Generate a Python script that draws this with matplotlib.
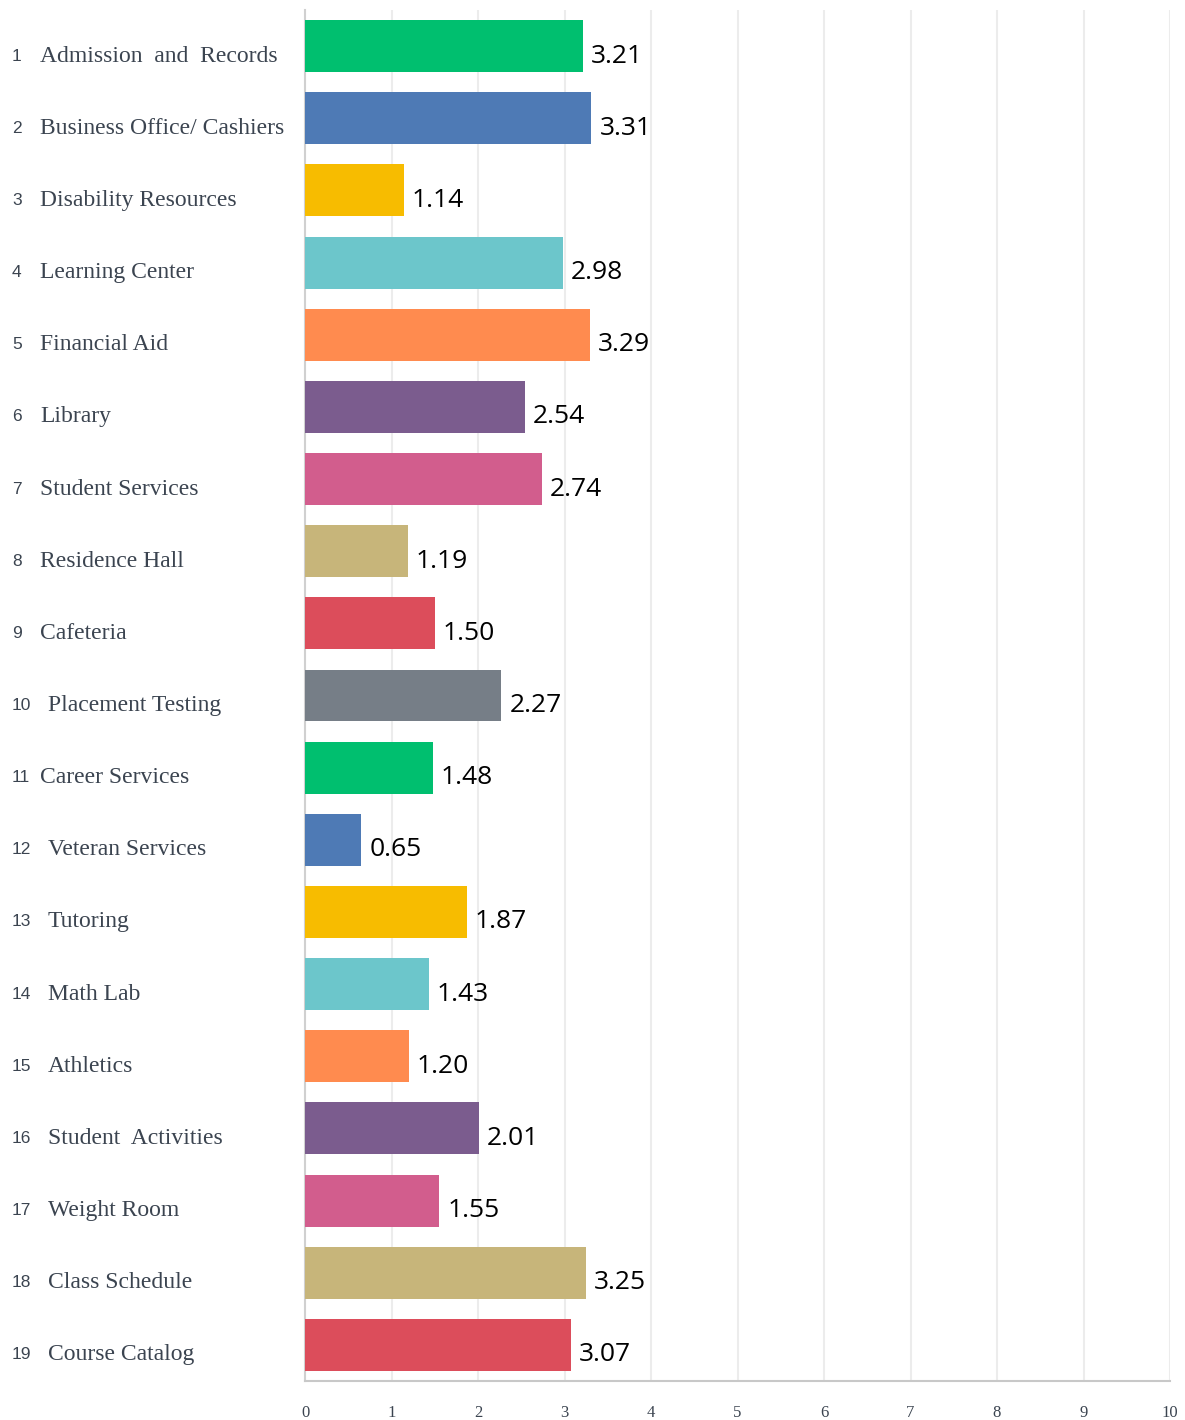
import matplotlib
matplotlib.use('Agg')

import matplotlib.pyplot as plt
import matplotlib.transforms as mtransforms

# services and mean scores, top to bottom
services = ['Admission  and  Records', 'Business Office/ Cashiers', 'Disability Resources',
            'Learning Center', 'Financial Aid', 'Library', 'Student Services', 'Residence Hall',
            'Cafeteria', 'Placement Testing', 'Career Services', 'Veteran Services', 'Tutoring',
            'Math Lab', 'Athletics', 'Student  Activities', 'Weight Room', 'Class Schedule',
            'Course Catalog']
scores = [3.21, 3.31, 1.14, 2.98, 3.29, 2.54, 2.74, 1.19, 1.50, 2.27,
          1.48, 0.65, 1.87, 1.43, 1.20, 2.01, 1.55, 3.25, 3.07]
palette = ['#00BF6F', '#4E7AB5', '#F7BC00', '#6CC6CB', '#FF8B4F',
           '#7B5C8E', '#D25D8D', '#C7B57A', '#DC4D5B', '#767E87']
xticks = list(range(0, 11))

colors = [palette[i % 10] if i < 10 else palette[(i - 10) % 9] for i in range(len(scores))]
ypos = list(range(len(scores)))

fig = plt.figure(figsize=(11.85, 14.2), dpi=100)
ax = fig.add_axes([305 / 1185, 39 / 1420, 865 / 1185, 1371 / 1420])

ax.barh(ypos, scores, height=0.72, color=colors, zorder=3)
ax.set_xlim(0, 10)
ax.set_ylim(len(scores) - 0.5, -0.5)
ax.set_yticks([])
ax.set_xticks(xticks)
ax.set_xticklabels([str(t) for t in xticks], family='Liberation Serif', fontsize=12, color='#3b4450')
ax.tick_params(axis='x', length=0, pad=17)
ax.grid(axis='x', color='#ececec', linewidth=1.5, zorder=0)

for side in ['top', 'right']:
    ax.spines[side].set_visible(False)
ax.spines['left'].set_color('#d0d0d0')
ax.spines['left'].set_linewidth(1.5)
ax.spines['bottom'].set_color('#c8c8c8')
ax.spines['bottom'].set_linewidth(1.5)

# value labels right of each bar
val_off = mtransforms.offset_copy(ax.transData, fig=fig, x=8, y=-10, units='dots')
for y, v in zip(ypos, scores):
    ax.text(v, y, f'{v:.2f}', transform=val_off, ha='left', va='center',
            family='Open Sans', fontsize=19, color='black')

# numbered category labels on the left
blend = mtransforms.blended_transform_factory(fig.transFigure, ax.transData)
lab_off = mtransforms.offset_copy(blend, fig=fig, x=0, y=-10, units='dots')
for i, (y, name) in enumerate(zip(ypos, services)):
    n = i + 1
    ax.text(12 / 1185, y, str(n), transform=lab_off, ha='left', va='center',
            family='Liberation Sans', fontsize=12.5, color='#3b4450', clip_on=False)
    name_x = 40 if (n < 10 or n == 11) else 48
    ax.text(name_x / 1185, y, name, transform=lab_off, ha='left', va='center',
            family='Liberation Serif', fontsize=17, color='#3b4450', clip_on=False)

fig.savefig('out.png', dpi=100, facecolor='white')
